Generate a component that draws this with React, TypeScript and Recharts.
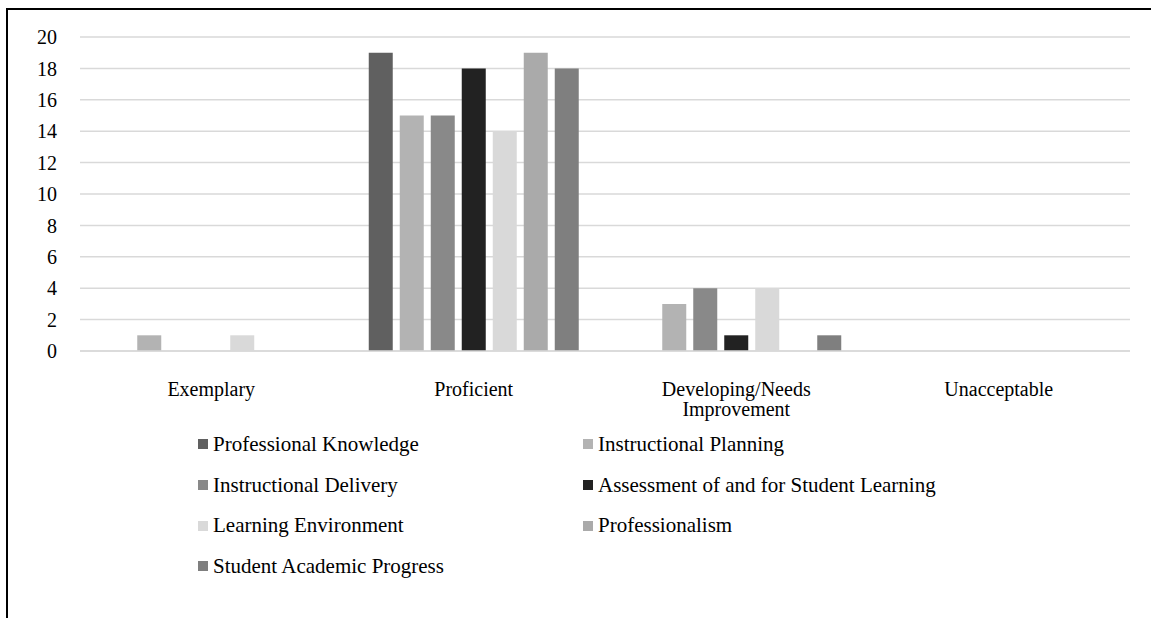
import React from "react";
import { BarChart, Bar, XAxis, YAxis, CartesianGrid, Legend, Text } from "recharts";

const categories = ["Exemplary", "Proficient", "Developing/Needs Improvement", "Unacceptable"];

const seriesNames = [
  "Professional Knowledge",
  "Instructional Planning",
  "Instructional Delivery",
  "Assessment of and for Student Learning",
  "Learning Environment",
  "Professionalism",
  "Student Academic Progress",
];

const seriesColors = ["#606060", "#b3b3b3", "#898989", "#222222", "#d9d9d9", "#aaaaaa", "#7f7f7f"];

// one array per series, values in category order
const professionalKnowledge = [0, 19, 0, 0];
const instructionalPlanning = [1, 15, 3, 0];
const instructionalDelivery = [0, 15, 4, 0];
const assessment = [0, 18, 1, 0];
const learningEnvironment = [1, 14, 4, 0];
const professionalism = [0, 19, 0, 0];
const studentProgress = [0, 18, 1, 0];

const seriesValues = [
  professionalKnowledge,
  instructionalPlanning,
  instructionalDelivery,
  assessment,
  learningEnvironment,
  professionalism,
  studentProgress,
];

const yTicks = [0, 2, 4, 6, 8, 10, 12, 14, 16, 18, 20];

const data = categories.map((name, i) => {
  const row: Record<string, string | number> = { name };
  seriesNames.forEach((s, j) => {
    row[s] = seriesValues[j][i];
  });
  return row;
});

const FONT = "'Liberation Serif', 'Times New Roman', serif";

const CategoryTick = (props: any) => {
  const { x, y, payload } = props;
  return (
    <Text
      x={x}
      y={y}
      width={180}
      textAnchor="middle"
      verticalAnchor="start"
      fontFamily={FONT}
      fontSize={20}
      fill="#000"
      lineHeight={20}
    >
      {payload.value}
    </Text>
  );
};

const renderLegend = () => (
  <div
    style={{
      display: "grid",
      gridTemplateColumns: "385px 400px",
      paddingLeft: 198,
      paddingTop: 4,
      fontFamily: FONT,
      fontSize: 21,
      color: "#000",
    }}
  >
    {seriesNames.map((s, i) => (
      <div key={s} style={{ height: 40.7, display: "flex", alignItems: "center", whiteSpace: "nowrap" }}>
        <span style={{ width: 10, height: 10, background: seriesColors[i], marginRight: 5, display: "inline-block" }} />
        {s}
      </div>
    ))}
  </div>
);

export default function App() {
  return (
    <div style={{ position: "relative", width: 1151, height: 618, background: "#fff" }}>
      <style>{`body{margin:0}`}</style>
      <div
        style={{
          position: "absolute",
          left: 6,
          top: 8,
          right: 0,
          bottom: 0,
          borderTop: "2px solid #000",
          borderLeft: "2px solid #000",
          pointerEvents: "none",
        }}
      />
      <BarChart
        width={1151}
        height={618}
        data={data}
        margin={{ top: 37, right: 21, left: 20, bottom: 18 }}
        barGap={7}
        barCategoryGap="10%"
      >
        <CartesianGrid vertical={false} stroke="#d9d9d9" strokeWidth={1.5} />
        <XAxis
          dataKey="name"
          height={69}
          tickSize={0}
          tickMargin={31}
          tickLine={false}
          axisLine={{ stroke: "#d9d9d9", strokeWidth: 1.5 }}
          tick={<CategoryTick />}
          interval={0}
        />
        <YAxis
          width={60}
          domain={[0, 20]}
          ticks={yTicks}
          interval={0}
          tickSize={0}
          tickMargin={23}
          tickLine={false}
          axisLine={false}
          tick={{ fontFamily: FONT, fontSize: 20, fill: "#000" }}
        />
        <Legend
          verticalAlign="bottom"
          content={renderLegend}
          wrapperStyle={{ left: 0, width: 1151, height: 180 }}
        />
        {seriesNames.map((s, i) => (
          <Bar key={s} dataKey={s} fill={seriesColors[i]} isAnimationActive={false} />
        ))}
      </BarChart>
    </div>
  );
}
